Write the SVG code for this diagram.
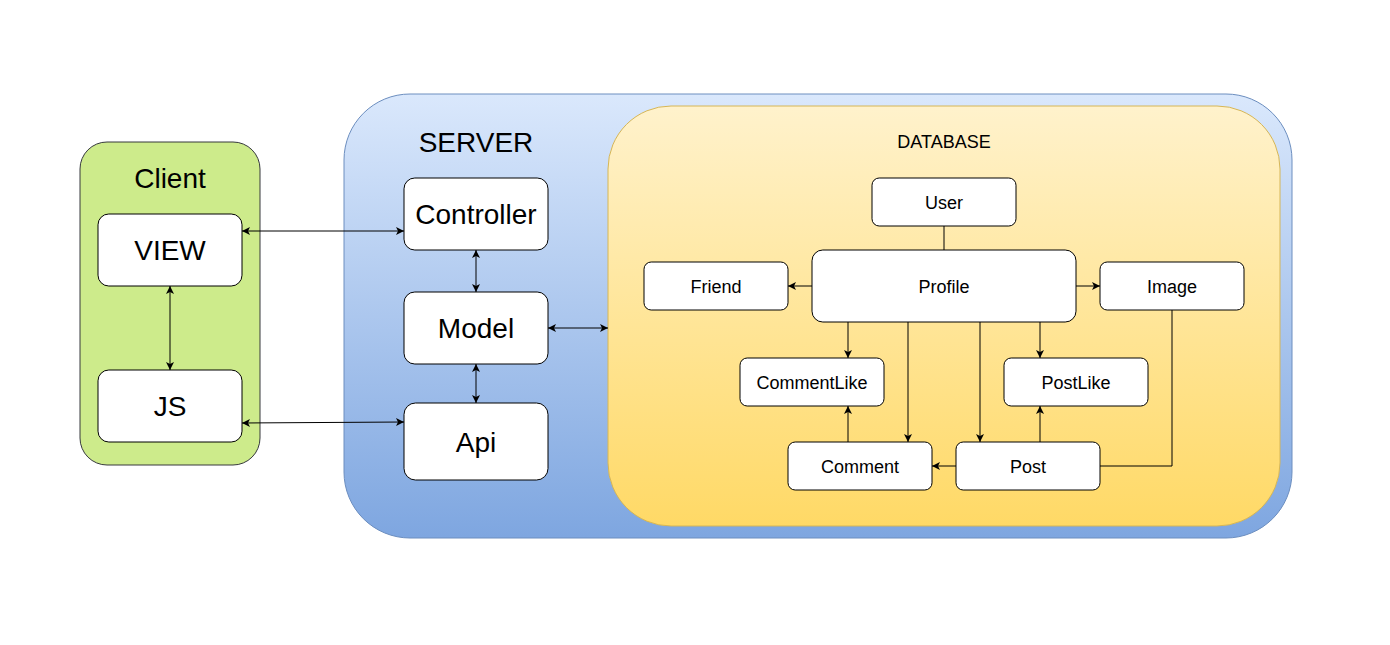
<svg xmlns="http://www.w3.org/2000/svg" width="1390" height="645" viewBox="0 0 1390 645">
<style>
text{font-family:"Liberation Sans",Arial,Helvetica,sans-serif;fill:#000;text-anchor:middle}
.node{fill:#fff;stroke:#000;stroke-width:1}
.big{font-size:28px}
.small{font-size:18px}
.c{fill:none;stroke:#000;stroke-width:1}
</style>
<defs>
<linearGradient id="gs" x1="0" y1="0" x2="0" y2="1"><stop offset="0" stop-color="#dae8fc"/><stop offset="1" stop-color="#7ea6e0"/></linearGradient>
<linearGradient id="gd" x1="0" y1="0" x2="0" y2="1"><stop offset="0" stop-color="#fff2cc"/><stop offset="1" stop-color="#ffd966"/></linearGradient>
<marker id="a" markerWidth="10" markerHeight="10" viewBox="-10 -5 10 10" refX="0" refY="0" orient="auto-start-reverse" markerUnits="userSpaceOnUse"><path d="M0,0 L-8,-4 L-6,0 L-8,4 Z" fill="#000"/></marker>
</defs>
<rect width="1390" height="645" fill="#fff"/>

<g id="client">
<rect x="80" y="142" width="180" height="323" rx="27" fill="#cdeb8b" stroke="#36393d"/>
<text class="big" x="170" y="188">Client</text>
</g>
<g id="server">
<rect x="344" y="94" width="948" height="444" rx="66" fill="url(#gs)" stroke="#6c8ebf"/>
<text class="big" x="476" y="152">SERVER</text>
</g>
<g id="database">
<rect x="608" y="106" width="672" height="420" rx="63" fill="url(#gd)" stroke="#d6b656"/>
<text class="small" x="944" y="148">DATABASE</text>
</g>

<g id="view"><rect class="node" x="98" y="214" width="144" height="72" rx="10.8"/><text class="big" x="170" y="260">VIEW</text></g>
<g id="js"><rect class="node" x="98" y="370" width="144" height="72" rx="10.8"/><text class="big" x="170" y="416">JS</text></g>
<g id="controller"><rect class="node" x="404" y="178" width="144" height="72" rx="10.8"/><text class="big" x="476" y="224">Controller</text></g>
<g id="model"><rect class="node" x="404" y="292" width="144" height="72" rx="10.8"/><text class="big" x="476" y="338">Model</text></g>
<g id="api"><rect class="node" x="404" y="403" width="144" height="77" rx="11.5"/><text class="big" x="476" y="452">Api</text></g>

<g id="user"><rect class="node" x="872" y="178" width="144" height="48" rx="7.2"/><text class="small" x="944" y="208.5">User</text></g>
<g id="profile"><rect class="node" x="812" y="250" width="264" height="72" rx="10.8"/><text class="small" x="944" y="292.5">Profile</text></g>
<g id="friend"><rect class="node" x="644" y="262" width="144" height="48" rx="7.2"/><text class="small" x="716" y="292.5">Friend</text></g>
<g id="image"><rect class="node" x="1100" y="262" width="144" height="48" rx="7.2"/><text class="small" x="1172" y="292.5">Image</text></g>
<g id="commentlike"><rect class="node" x="740" y="358" width="144" height="48" rx="7.2"/><text class="small" x="812" y="388.5">CommentLike</text></g>
<g id="postlike"><rect class="node" x="1004" y="358" width="144" height="48" rx="7.2"/><text class="small" x="1076" y="388.5">PostLike</text></g>
<g id="comment"><rect class="node" x="788" y="442" width="144" height="48" rx="7.2"/><text class="small" x="860" y="472.5">Comment</text></g>
<g id="post"><rect class="node" x="956" y="442" width="144" height="48" rx="7.2"/><text class="small" x="1028" y="472.5">Post</text></g>

<g id="connectors">
<path class="c" d="M242,231 H404" marker-start="url(#a)" marker-end="url(#a)"/>
<path class="c" d="M170,286 V370" marker-start="url(#a)" marker-end="url(#a)"/>
<path class="c" d="M242,423 L404,422" marker-start="url(#a)" marker-end="url(#a)"/>
<path class="c" d="M476,250 V292" marker-start="url(#a)" marker-end="url(#a)"/>
<path class="c" d="M476,364 V403" marker-start="url(#a)" marker-end="url(#a)"/>
<path class="c" d="M548,328 H608" marker-start="url(#a)" marker-end="url(#a)"/>

<path class="c" d="M944,226 V250"/>
<path class="c" d="M812,286 H788" marker-end="url(#a)"/>
<path class="c" d="M1076,286 H1100" marker-end="url(#a)"/>
<path class="c" d="M848,322 V358" marker-end="url(#a)"/>
<path class="c" d="M908,322 V442" marker-end="url(#a)"/>
<path class="c" d="M980,322 V442" marker-end="url(#a)"/>
<path class="c" d="M1040,322 V358" marker-end="url(#a)"/>
<path class="c" d="M848,442 V406" marker-end="url(#a)"/>
<path class="c" d="M1040,442 V406" marker-end="url(#a)"/>
<path class="c" d="M956,466 H932" marker-end="url(#a)"/>
<path class="c" d="M1172,310 V466 H1100"/>
</g>
</svg>
